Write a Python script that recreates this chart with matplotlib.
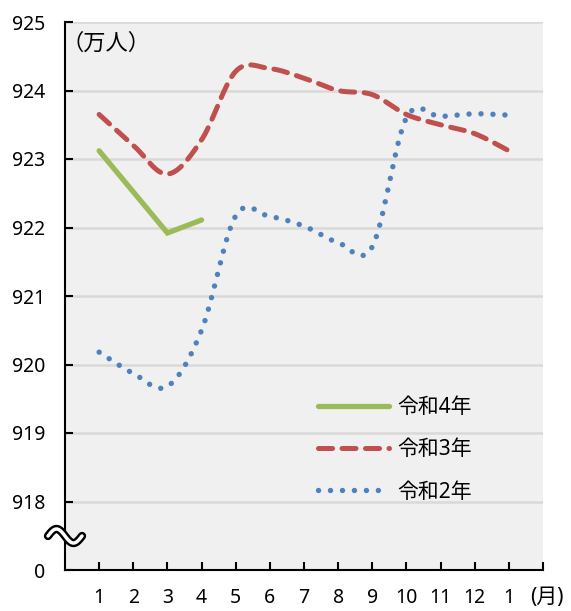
import numpy as np
import matplotlib
matplotlib.use('Agg')
import matplotlib.pyplot as plt
from matplotlib.lines import Line2D

plt.rcParams['font.family'] = ['Noto Sans', 'Noto Sans CJK JP', 'DejaVu Sans']

months = [1, 2, 3, 4, 5, 6, 7, 8, 9, 10, 11, 12, 13]
month_labels = ['1', '2', '3', '4', '5', '6', '7', '8', '9', '10', '11', '12', '1']

r4 = [923.12, 922.52, 921.92, 922.11]
r3 = [923.65, 923.2, 922.78, 923.28, 924.28, 924.32, 924.18, 924.0, 923.94,
      923.65, 923.5, 923.37, 923.12]
r2 = [920.18, 919.87, 919.68, 920.5, 922.17, 922.16, 922.02, 921.78, 921.72,
      923.6, 923.62, 923.66, 923.64]
labels = ['令和4年', '令和3年', '令和2年']

green = '#9bbb59'
red = '#c0504d'
blue = '#4f81bd'


def smooth(xs, ys, yscale=2.0, n=30):
    # excel-like smoothed line (bezier through points)
    x = np.asarray(xs, float)
    y = np.asarray(ys, float) * yscale
    px = np.concatenate([[x[0]], x, [x[-1]]])
    py = np.concatenate([[y[0]], y, [y[-1]]])
    ox, oy = [], []
    t = np.linspace(0, 1, n)
    for i in range(1, len(px) - 2):
        p0 = np.array([px[i], py[i]])
        p3 = np.array([px[i + 1], py[i + 1]])
        c1 = p0 + (np.array([px[i + 1], py[i + 1]]) - np.array([px[i - 1], py[i - 1]])) / 6
        c2 = p3 - (np.array([px[i + 2], py[i + 2]]) - np.array([px[i], py[i]])) / 6
        b = ((1 - t)[:, None] ** 3 * p0 + 3 * ((1 - t) ** 2 * t)[:, None] * c1
             + 3 * ((1 - t) * t ** 2)[:, None] * c2 + (t ** 3)[:, None] * p3)
        ox.extend(b[:, 0])
        oy.extend(b[:, 1])
    return np.array(ox), np.array(oy) / yscale


fig = plt.figure(figsize=(5.71, 6.11), dpi=100)
ax = fig.add_axes([65 / 571, 1 - 570 / 611, (543 - 65) / 571, (570 - 22) / 611])
ax.set_facecolor('#f0f0f0')

for v in range(918, 926):
    ax.axhline(v, color='#d9d9d9', lw=1.8, zorder=1)

ax.plot(months[:4], r4, color=green, lw=3.8, solid_capstyle='round',
        solid_joinstyle='miter', label=labels[0], zorder=3)
sx, sy = smooth(months, r3)
ax.plot(sx, sy, color=red, lw=3.6, dashes=(2.8, 1.9), dash_capstyle='round',
        label=labels[1], zorder=3)
sx, sy = smooth(months, r2)
ax.plot(sx, sy, color=blue, lw=3.9, dashes=(0.01, 2.2), dash_capstyle='round',
        label=labels[2], zorder=3)

ax.set_xlim(0, 14)
ax.set_ylim(917, 925)
ax.set_xticks(list(range(1, 15)))
ax.set_xticklabels(month_labels + [''])
ax.set_yticks(list(range(917, 926)))
ax.set_yticklabels(['0'] + [str(v) for v in range(918, 926)])
ax.tick_params(axis='both', direction='in', length=6, width=1.5, labelsize=14)
ax.tick_params(axis='x', pad=13)
ax.tick_params(axis='y', pad=14)
for s in ['top', 'right']:
    ax.spines[s].set_visible(False)
for s in ['left', 'bottom']:
    ax.spines[s].set_linewidth(1.5)

ax.text(-0.008, 0.982, '（万人）', transform=ax.transAxes, fontsize=16,
        ha='left', va='top', family=['Noto Sans CJK JP'])
fig.text(547 / 571, 1 - 598 / 611, '(月)', fontsize=15, ha='center', va='center')

# axis break mark
t = np.linspace(-1, 1, 60)
wx = (65 + 17 * t) / 571
wy = (611 - 536 + 7 * np.sin(np.pi * (t + 1))) / 611
fig.add_artist(Line2D(wx, wy, color='black', lw=6, solid_capstyle='round',
                      transform=fig.transFigure, zorder=5))
fig.add_artist(Line2D(wx, wy, color='white', lw=2.5, solid_capstyle='round',
                      transform=fig.transFigure, zorder=6))

ax.legend(loc='upper left', bbox_to_anchor=(318 / 571, 1 - 397 / 611),
          bbox_transform=fig.transFigure, frameon=False, fontsize=15,
          handlelength=3.4, handletextpad=0.4, labelspacing=1.02,
          borderpad=0, borderaxespad=0)

fig.savefig('out.png', dpi=100)
